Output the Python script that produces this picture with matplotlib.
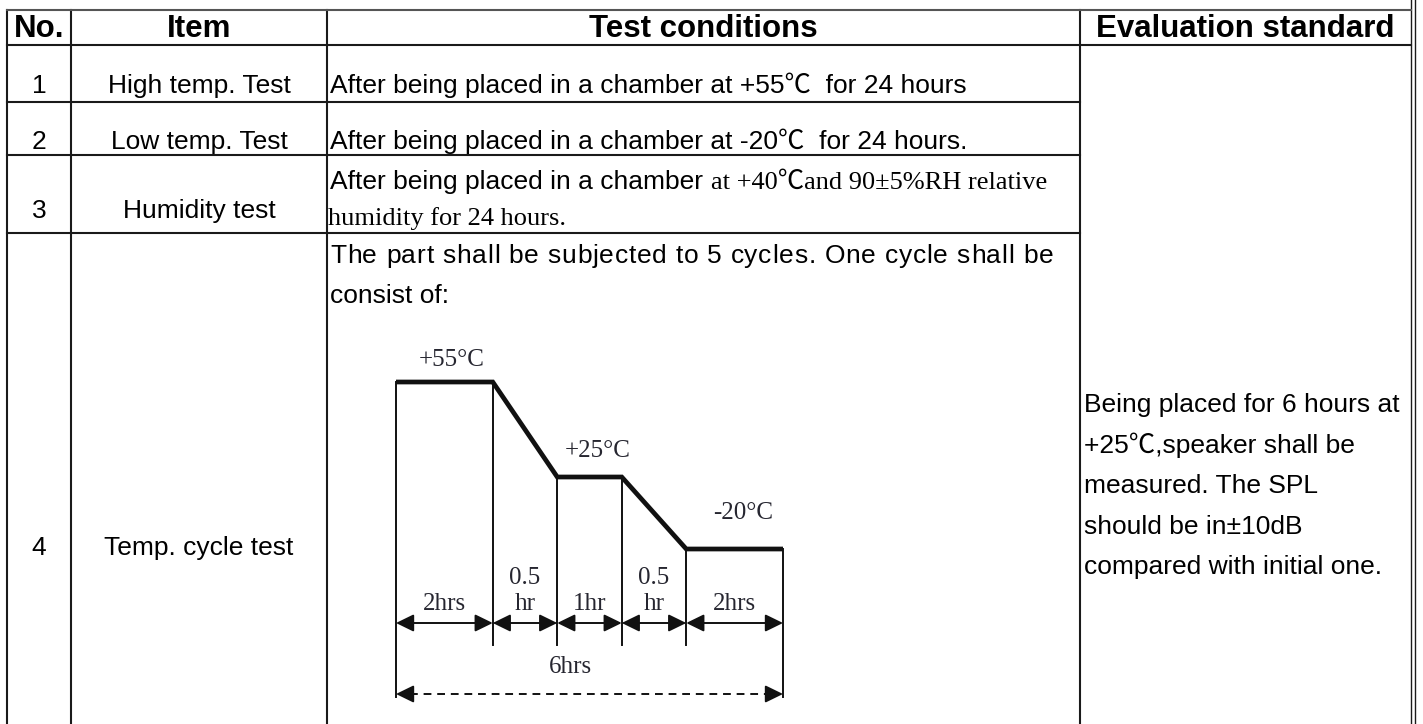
import matplotlib.pyplot as plt

SANS = ['Liberation Sans', 'Noto Sans CJK SC', 'DejaVu Sans']
SERIF = ['Liberation Serif', 'Noto Sans CJK SC', 'DejaVu Serif']

headers = ['No.', 'Item', 'Test conditions', 'Evaluation standard']
numbers = ['1', '2', '3', '4']
items = ['High temp. Test', 'Low temp. Test', 'Humidity test', 'Temp. cycle test']
cond_1 = 'After being placed in a chamber at +55\u2103  for 24 hours'
cond_2 = 'After being placed in a chamber at -20\u2103  for 24 hours.'
cond_3a = 'After being placed in a chamber'
cond_3b = 'at +40\u2103and 90\u00b15%RH relative'
cond_3c = 'humidity for 24 hours.'
cond_4 = ['The part shall be subjected to 5 cycles. One cycle shall be',
          'consist of:']
evaluation = ['Being placed for 6 hours at',
              '+25\u2103,speaker shall be',
              'measured. The SPL',
              'should be in\u00b110dB',
              'compared with initial one.']

# temperature cycle diagram
temps = ['+55\u00b0C', '+25\u00b0C', '-20\u00b0C']
phases = ['2hrs', '0.5\nhr', '1hr', '0.5\nhr', '2hrs']
total = '6hrs'

fig = plt.figure(figsize=(14.23, 7.24), dpi=100)
ax = fig.add_axes([0, 0, 1, 1])
ax.set_xlim(0, 1423)
ax.set_ylim(724, 0)
ax.axis('off')
renderer = fig.canvas.get_renderer()


def text_width(t):
    bb = t.get_window_extent(renderer=renderer)
    return bb.width  # 1 data unit == 1 pixel here


# table grid
col_x = [7, 71, 327, 1080, 1411]
row_y = [10, 45, 102, 155, 233, 724]
lc = '#1a1a1a'
for x in col_x[:4]:
    ax.plot([x, x], [row_y[0], row_y[-1]], color=lc, lw=1.5)
for x in (1411, 1415):
    ax.plot([x, x], [0, 724], color=lc, lw=1.0)
ax.plot([col_x[0], 1411], [row_y[0], row_y[0]], color='#555555', lw=1.5)
ax.plot([col_x[0], 1411], [row_y[1], row_y[1]], color=lc, lw=1.5)
for y in row_y[2:5]:
    ax.plot([col_x[0], col_x[3]], [y, y], color=lc, lw=1.5)

# header
fs = 19
centers = [(col_x[i] + col_x[i + 1]) / 2 for i in range(4)]
for c, h in zip(centers, headers):
    ax.text(c, 37, h, ha='center', va='baseline', fontsize=22.5,
            fontweight='bold', family=SANS)

base = [93, 149, 218, 555]
for n, it, b in zip(numbers, items, base):
    ax.text(centers[0], b, n, ha='center', va='baseline', fontsize=fs, family=SANS)
    ax.text(centers[1], b, it, ha='center', va='baseline', fontsize=fs, family=SANS)

tx = 330
ax.text(tx, 93, cond_1, va='baseline', fontsize=fs, family=SANS)
ax.text(tx, 149, cond_2, va='baseline', fontsize=fs, family=SANS)
t3 = ax.text(tx, 189, cond_3a, va='baseline', fontsize=fs, family=SANS)
x_end = tx + text_width(t3)
ax.text(x_end + 8, 189, cond_3b, va='baseline', fontsize=19, family=SERIF)
ax.text(tx - 2, 225, cond_3c, va='baseline', fontsize=19, family=SERIF)

# first line of row 4 has expanded character spacing (distributed)
line = cond_4[0]
line_right = 1053
probe = ax.text(tx, 263, line, va='baseline', fontsize=fs, family=SANS)
natural = text_width(probe)
track = (line_right - tx - natural) / (len(line) - 1)
for i, ch in enumerate(line):
    if ch == ' ':
        continue
    probe.set_text(line[:i + 1])
    right = tx + text_width(probe) + i * track
    ax.text(right, 263, ch, ha='right', va='baseline', fontsize=fs, family=SANS)
probe.remove()
ax.text(tx, 303, cond_4[1], va='baseline', fontsize=fs, family=SANS)

for i, ev in enumerate(evaluation):
    ax.text(1084, 412 + i * 40.5, ev, va='baseline', fontsize=fs, family=SANS)

# diagram layout (schematic, pixel units)
x0, unit = 396, 64.5
widths = [1.5, 1, 1, 1, 1.5]
bx = [x0]
for w in widths:
    bx.append(bx[-1] + w * unit)
levels = [382, 477, 549]
dc = '#111111'
tc = '#262630'

prof_x = [bx[0], bx[1], bx[2], bx[3], bx[4], bx[5]]
prof_y = [levels[0], levels[0], levels[1], levels[1], levels[2], levels[2]]
ax.plot(prof_x, prof_y, color=dc, lw=3.4, solid_capstyle='butt',
        solid_joinstyle='miter')

arrow_y, long_y, short_y = 623, 697, 645
ax.plot([bx[0], bx[0]], [levels[0], long_y], color=dc, lw=1.4)
ax.plot([bx[5], bx[5]], [levels[2], long_y], color=dc, lw=1.4)
for x, lv in zip(bx[1:5], [levels[0], levels[1], levels[1], levels[2]]):
    ax.plot([x, x], [lv, short_y], color=dc, lw=1.4)

astyle = '<|-|>,head_length=0.45,head_width=0.22'
for i, lab in enumerate(phases):
    ax.annotate('', xy=(bx[i + 1], arrow_y), xytext=(bx[i], arrow_y),
                arrowprops=dict(arrowstyle=astyle, color=dc, lw=1.4,
                                mutation_scale=24, shrinkA=0, shrinkB=0))
    cx = (bx[i] + bx[i + 1]) / 2
    ax.text(cx, 610, lab, ha='center', va='baseline', fontsize=18,
            family=SERIF, color=tc, linespacing=1.25)

# total duration, dashed
ax.plot([bx[0] + 14, bx[5] - 14], [694, 694], color=dc, lw=1.4,
        linestyle=(0, (4, 3)))
hstyle = '-|>,head_length=0.45,head_width=0.22'
for tip, tail in ((bx[0], bx[0] + 16), (bx[5], bx[5] - 16)):
    ax.annotate('', xy=(tip, 694), xytext=(tail, 694),
                arrowprops=dict(arrowstyle=hstyle, color=dc, lw=1.4,
                                mutation_scale=24, shrinkA=0, shrinkB=0))
ax.text((bx[0] + bx[5]) / 2 - 19, 673, total, ha='center', va='baseline',
        fontsize=18, family=SERIF, color=tc)

# temperature labels above plateaus
plateau_c = [(bx[0] + bx[1]) / 2, (bx[2] + bx[3]) / 2, (bx[4] + bx[5]) / 2]
offsets = [(7, -16), (8, -20), (8, -30)]
for t, c, lv, (dx, dy) in zip(temps, plateau_c, levels, offsets):
    ax.text(c + dx, lv + dy, t, ha='center', va='baseline', fontsize=18,
            family=SERIF, color=tc)

fig.savefig('out.png', dpi=100)
